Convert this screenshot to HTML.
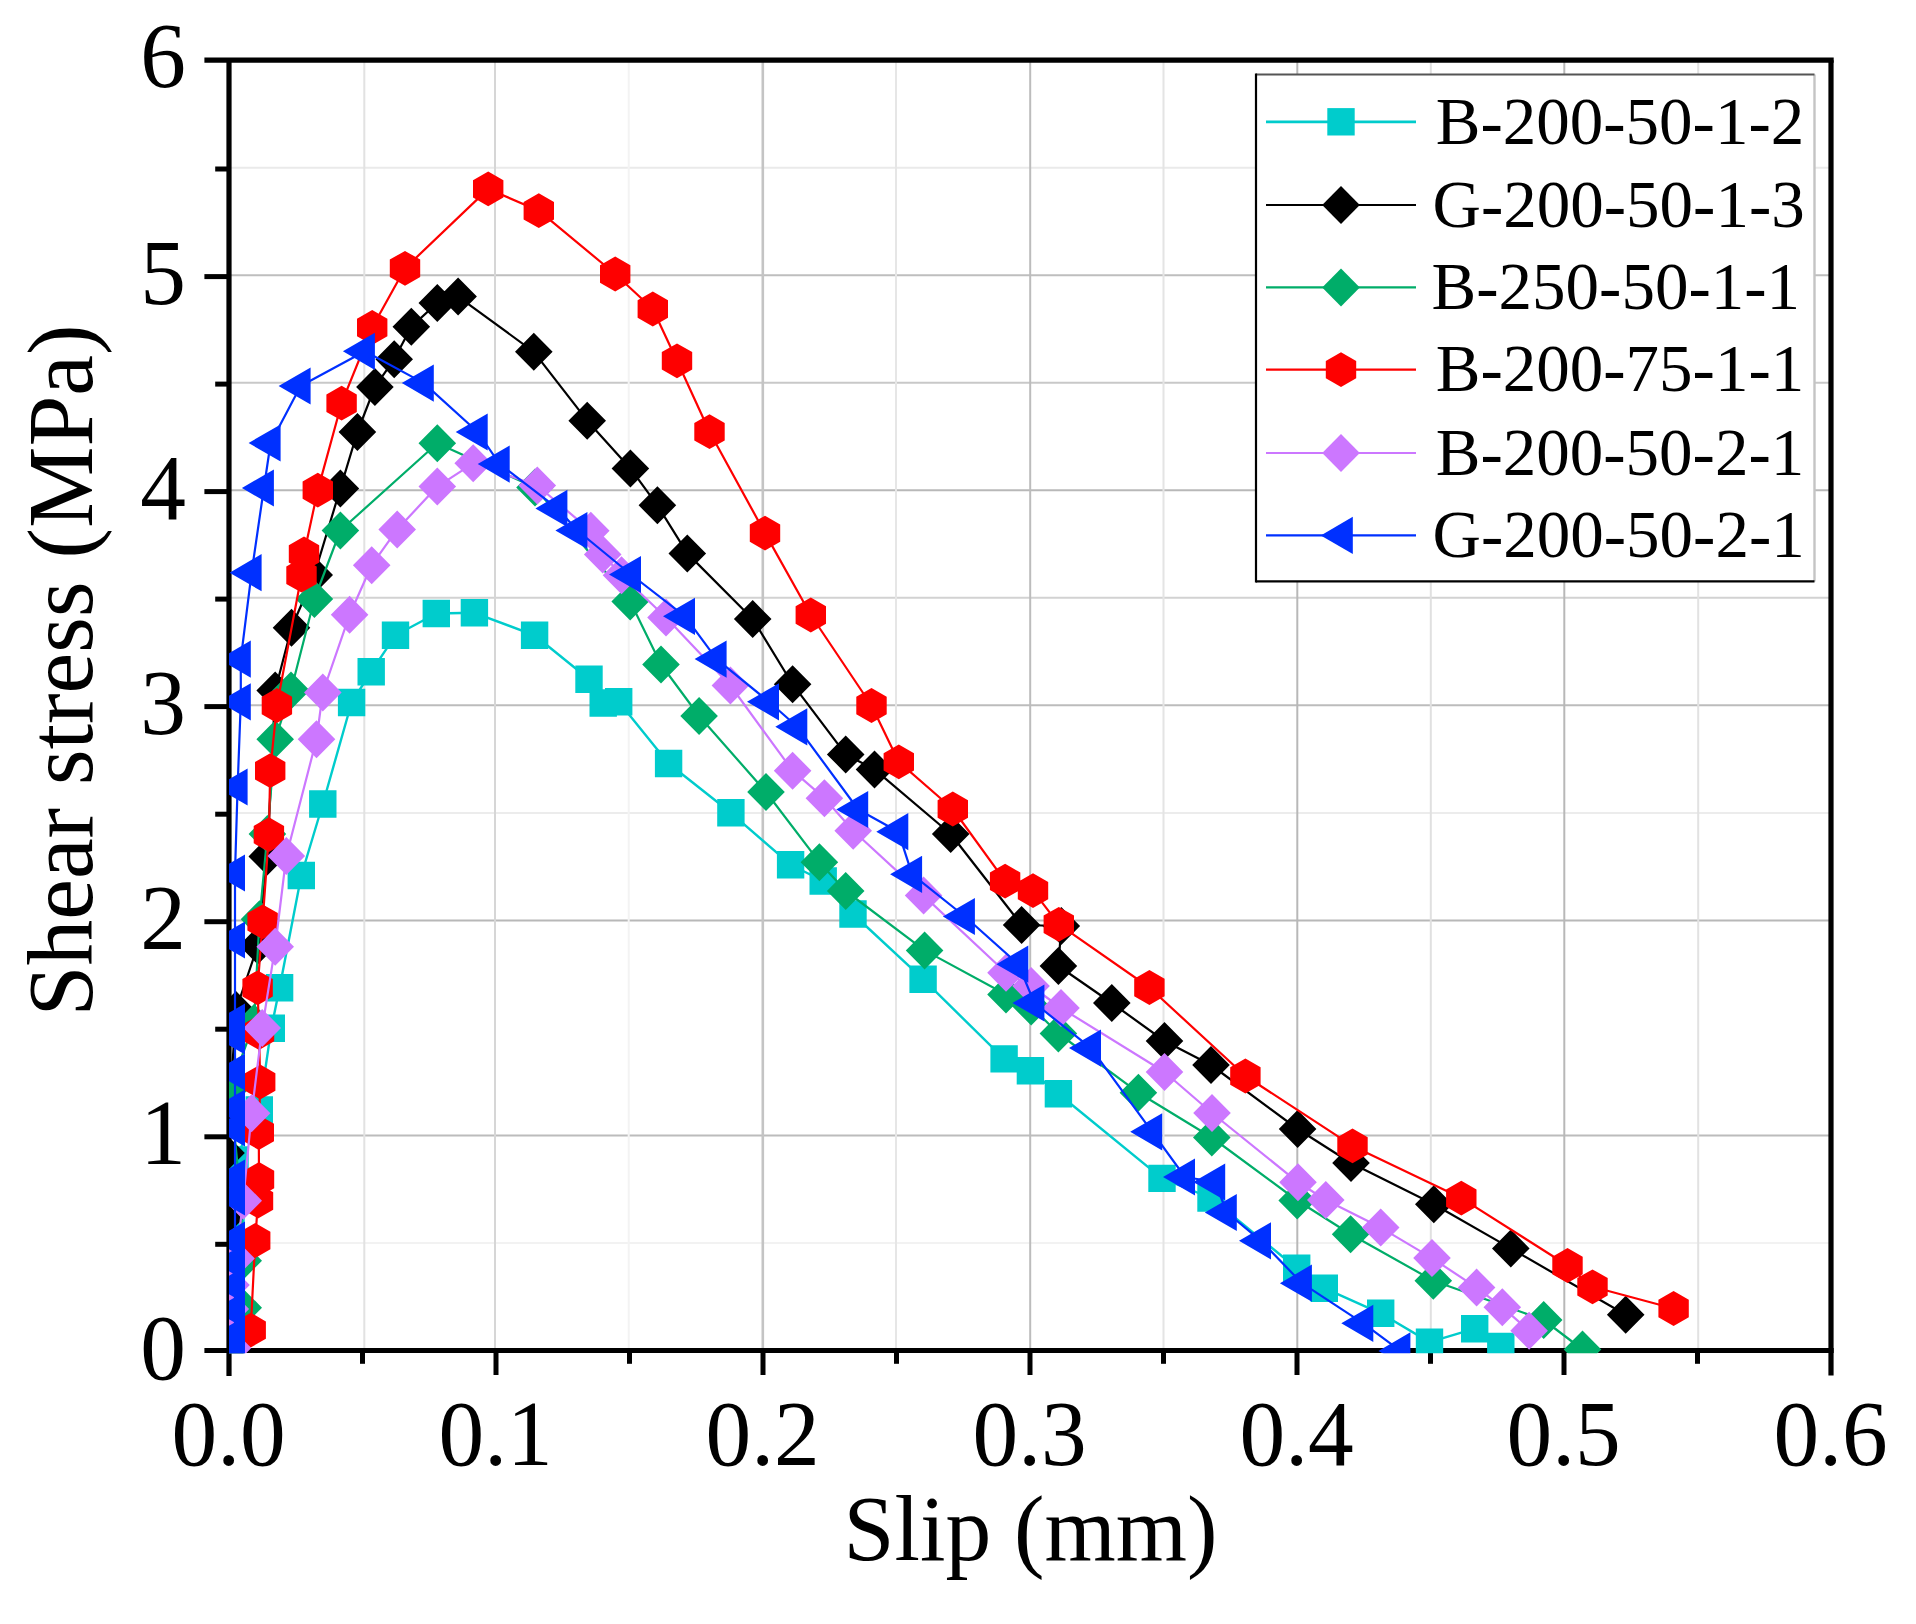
<!DOCTYPE html>
<html lang="en"><head><meta charset="utf-8"><title>Shear stress - slip curves</title>
<style>html,body{margin:0;padding:0;background:#fff}svg{display:block}text{font-family:'Liberation Serif','Times New Roman',Times,serif;fill:#000}</style></head><body>
<svg width="1916" height="1624" viewBox="0 0 1916 1624">
<rect x="0" y="0" width="1916" height="1624" fill="#fff"/>
<g fill="none" stroke-width="2">
<line x1="229.0" x2="1831.0" y1="1243.0" y2="1243.0" stroke="#f2f2f2"/>
<line x1="229.0" x2="1831.0" y1="1135.5" y2="1135.5" stroke="#bcbcbc"/>
<line x1="229.0" x2="1831.0" y1="920.4" y2="920.4" stroke="#b8b8b8"/>
<line x1="229.0" x2="1831.0" y1="812.9" y2="812.9" stroke="#ececec"/>
<line x1="229.0" x2="1831.0" y1="705.3" y2="705.3" stroke="#bcbcbc"/>
<line x1="229.0" x2="1831.0" y1="597.8" y2="597.8" stroke="#d2d2d2"/>
<line x1="229.0" x2="1831.0" y1="490.3" y2="490.3" stroke="#b8b8b8"/>
<line x1="229.0" x2="1831.0" y1="382.8" y2="382.8" stroke="#c8c8c8"/>
<line x1="229.0" x2="1831.0" y1="275.2" y2="275.2" stroke="#bebebe"/>
<line x1="229.0" x2="1831.0" y1="167.7" y2="167.7" stroke="#eaeaea"/>
<line x1="364.3" x2="364.3" y1="60.2" y2="1350.5" stroke="#e2e2e2" stroke-width="2"/>
<line x1="495.0" x2="495.0" y1="60.2" y2="1350.5" stroke="#d6d6d6" stroke-width="2"/>
<line x1="628.7" x2="628.7" y1="60.2" y2="1350.5" stroke="#f3f3f3" stroke-width="2"/>
<line x1="762.8" x2="762.8" y1="60.2" y2="1350.5" stroke="#c4c4c4" stroke-width="2.6"/>
<line x1="896.0" x2="896.0" y1="60.2" y2="1350.5" stroke="#e6e6e6" stroke-width="2"/>
<line x1="1030.2" x2="1030.2" y1="60.2" y2="1350.5" stroke="#bcbcbc" stroke-width="2"/>
<line x1="1163.5" x2="1163.5" y1="60.2" y2="1350.5" stroke="#e4e4e4" stroke-width="2"/>
<line x1="1297.3" x2="1297.3" y1="60.2" y2="1350.5" stroke="#b8b8b8" stroke-width="2"/>
<line x1="1430.8" x2="1430.8" y1="60.2" y2="1350.5" stroke="#e0e0e0" stroke-width="2"/>
<line x1="1564.3" x2="1564.3" y1="60.2" y2="1350.5" stroke="#b8b8b8" stroke-width="2"/>
<line x1="1698.2" x2="1698.2" y1="60.2" y2="1350.5" stroke="#e2e2e2" stroke-width="2"/>
</g>
<g stroke="#000" fill="none" stroke-width="5.2">
<line x1="204.4" x2="1833.7" y1="60.2" y2="60.2"/>
<line x1="204.4" x2="1833.7" y1="1350.5" y2="1350.5"/>
<line x1="229.0" x2="229.0" y1="60.2" y2="1376.0"/>
<line x1="1831.0" x2="1831.0" y1="60.2" y2="1375.5"/>
</g>
<g stroke="#000" fill="none" stroke-width="5">
<line x1="215.2" x2="229.0" y1="1244.3" y2="1244.3"/>
<line x1="204.4" x2="229.0" y1="1136.8" y2="1136.8"/>
<line x1="215.2" x2="229.0" y1="1029.2" y2="1029.2"/>
<line x1="204.4" x2="229.0" y1="921.7" y2="921.7"/>
<line x1="215.2" x2="229.0" y1="814.2" y2="814.2"/>
<line x1="204.4" x2="229.0" y1="706.6" y2="706.6"/>
<line x1="215.2" x2="229.0" y1="599.1" y2="599.1"/>
<line x1="204.4" x2="229.0" y1="491.6" y2="491.6"/>
<line x1="215.2" x2="229.0" y1="384.1" y2="384.1"/>
<line x1="204.4" x2="229.0" y1="276.6" y2="276.6"/>
<line x1="215.2" x2="229.0" y1="169.0" y2="169.0"/>
<line x1="362.5" x2="362.5" y1="1350.5" y2="1363.8"/>
<line x1="496.0" x2="496.0" y1="1350.5" y2="1375.0"/>
<line x1="629.5" x2="629.5" y1="1350.5" y2="1363.8"/>
<line x1="763.0" x2="763.0" y1="1350.5" y2="1375.0"/>
<line x1="896.5" x2="896.5" y1="1350.5" y2="1363.8"/>
<line x1="1030.0" x2="1030.0" y1="1350.5" y2="1375.0"/>
<line x1="1163.5" x2="1163.5" y1="1350.5" y2="1363.8"/>
<line x1="1297.0" x2="1297.0" y1="1350.5" y2="1375.0"/>
<line x1="1430.5" x2="1430.5" y1="1350.5" y2="1363.8"/>
<line x1="1564.0" x2="1564.0" y1="1350.5" y2="1375.0"/>
<line x1="1697.5" x2="1697.5" y1="1350.5" y2="1363.8"/>
</g>
<defs><clipPath id="pc"><rect x="229.0" y="57.2" width="1605.0" height="1296.1"/></clipPath></defs>
<g clip-path="url(#pc)">
<path d="M230.0 1349.0L231.0 1318.0L231.0 1287.0L231.0 1225.0L235.0 1160.0L259.3 1110.0L271.3 1028.3L279.6 987.8L301.3 875.5L322.8 804.0L351.6 702.5L371.2 671.7L395.5 635.3L436.3 613.5L474.4 612.8L534.6 635.3L589.0 679.2L603.2 703.0L618.7 701.8L668.6 763.5L730.9 812.8L790.6 864.7L823.2 881.0L853.0 914.0L923.1 979.2L1004.1 1058.9L1030.4 1070.7L1058.4 1093.7L1162.0 1178.4L1211.0 1198.0L1296.7 1268.2L1324.3 1288.2L1380.7 1313.3L1429.5 1342.1L1474.7 1328.7L1500.8 1346.4" fill="none" stroke="#00cccc" stroke-width="2.4" stroke-linejoin="round"/>
<path d="M216.3 1335.3h27.4v27.4h-27.4zM217.3 1304.3h27.4v27.4h-27.4zM217.3 1273.3h27.4v27.4h-27.4zM217.3 1211.3h27.4v27.4h-27.4zM221.3 1146.3h27.4v27.4h-27.4zM245.6 1096.3h27.4v27.4h-27.4zM257.6 1014.6h27.4v27.4h-27.4zM265.9 974.1h27.4v27.4h-27.4zM287.6 861.8h27.4v27.4h-27.4zM309.1 790.3h27.4v27.4h-27.4zM337.9 688.8h27.4v27.4h-27.4zM357.5 658.0h27.4v27.4h-27.4zM381.8 621.6h27.4v27.4h-27.4zM422.6 599.8h27.4v27.4h-27.4zM460.7 599.1h27.4v27.4h-27.4zM520.9 621.6h27.4v27.4h-27.4zM575.3 665.5h27.4v27.4h-27.4zM589.5 689.3h27.4v27.4h-27.4zM605.0 688.1h27.4v27.4h-27.4zM654.9 749.8h27.4v27.4h-27.4zM717.2 799.1h27.4v27.4h-27.4zM776.9 851.0h27.4v27.4h-27.4zM809.5 867.3h27.4v27.4h-27.4zM839.3 900.3h27.4v27.4h-27.4zM909.4 965.5h27.4v27.4h-27.4zM990.4 1045.2h27.4v27.4h-27.4zM1016.7 1057.0h27.4v27.4h-27.4zM1044.7 1080.0h27.4v27.4h-27.4zM1148.3 1164.7h27.4v27.4h-27.4zM1197.3 1184.3h27.4v27.4h-27.4zM1283.0 1254.5h27.4v27.4h-27.4zM1310.6 1274.5h27.4v27.4h-27.4zM1367.0 1299.6h27.4v27.4h-27.4zM1415.8 1328.4h27.4v27.4h-27.4zM1461.0 1315.0h27.4v27.4h-27.4zM1487.1 1332.7h27.4v27.4h-27.4z" fill="#00cccc" stroke="none"/>
<path d="M230.0 1348.0L229.0 1285.0L228.0 1215.0L226.0 1153.0L231.0 1087.0L236.0 1010.0L257.8 945.5L267.3 856.4L275.2 690.5L291.5 627.8L314.2 575.0L340.4 488.4L357.4 432.0L374.9 386.9L394.2 359.3L411.3 326.7L437.3 302.9L458.1 296.6L533.8 351.8L587.2 420.7L630.4 468.4L657.4 505.3L687.3 553.4L752.7 619.0L792.6 684.2L845.7 754.4L874.5 769.4L950.7 834.0L1021.6 925.0L1061.3 926.0L1058.4 966.0L1111.8 1003.0L1164.5 1041.0L1211.0 1065.0L1297.6 1129.0L1351.0 1163.0L1433.8 1204.3L1510.8 1248.4L1625.7 1314.8" fill="none" stroke="#000000" stroke-width="2.2" stroke-linejoin="round"/>
<path d="M230.0 1329.0l18.8 19.0l-18.8 19.0l-18.8 -19.0zM229.0 1266.0l18.8 19.0l-18.8 19.0l-18.8 -19.0zM228.0 1196.0l18.8 19.0l-18.8 19.0l-18.8 -19.0zM226.0 1134.0l18.8 19.0l-18.8 19.0l-18.8 -19.0zM231.0 1068.0l18.8 19.0l-18.8 19.0l-18.8 -19.0zM236.0 991.0l18.8 19.0l-18.8 19.0l-18.8 -19.0zM257.8 926.5l18.8 19.0l-18.8 19.0l-18.8 -19.0zM267.3 837.4l18.8 19.0l-18.8 19.0l-18.8 -19.0zM275.2 671.5l18.8 19.0l-18.8 19.0l-18.8 -19.0zM291.5 608.8l18.8 19.0l-18.8 19.0l-18.8 -19.0zM314.2 556.0l18.8 19.0l-18.8 19.0l-18.8 -19.0zM340.4 469.4l18.8 19.0l-18.8 19.0l-18.8 -19.0zM357.4 413.0l18.8 19.0l-18.8 19.0l-18.8 -19.0zM374.9 367.9l18.8 19.0l-18.8 19.0l-18.8 -19.0zM394.2 340.3l18.8 19.0l-18.8 19.0l-18.8 -19.0zM411.3 307.7l18.8 19.0l-18.8 19.0l-18.8 -19.0zM437.3 283.9l18.8 19.0l-18.8 19.0l-18.8 -19.0zM458.1 277.6l18.8 19.0l-18.8 19.0l-18.8 -19.0zM533.8 332.8l18.8 19.0l-18.8 19.0l-18.8 -19.0zM587.2 401.7l18.8 19.0l-18.8 19.0l-18.8 -19.0zM630.4 449.4l18.8 19.0l-18.8 19.0l-18.8 -19.0zM657.4 486.3l18.8 19.0l-18.8 19.0l-18.8 -19.0zM687.3 534.4l18.8 19.0l-18.8 19.0l-18.8 -19.0zM752.7 600.0l18.8 19.0l-18.8 19.0l-18.8 -19.0zM792.6 665.2l18.8 19.0l-18.8 19.0l-18.8 -19.0zM845.7 735.4l18.8 19.0l-18.8 19.0l-18.8 -19.0zM874.5 750.4l18.8 19.0l-18.8 19.0l-18.8 -19.0zM950.7 815.0l18.8 19.0l-18.8 19.0l-18.8 -19.0zM1021.6 906.0l18.8 19.0l-18.8 19.0l-18.8 -19.0zM1061.3 907.0l18.8 19.0l-18.8 19.0l-18.8 -19.0zM1058.4 947.0l18.8 19.0l-18.8 19.0l-18.8 -19.0zM1111.8 984.0l18.8 19.0l-18.8 19.0l-18.8 -19.0zM1164.5 1022.0l18.8 19.0l-18.8 19.0l-18.8 -19.0zM1211.0 1046.0l18.8 19.0l-18.8 19.0l-18.8 -19.0zM1297.6 1110.0l18.8 19.0l-18.8 19.0l-18.8 -19.0zM1351.0 1144.0l18.8 19.0l-18.8 19.0l-18.8 -19.0zM1433.8 1185.3l18.8 19.0l-18.8 19.0l-18.8 -19.0zM1510.8 1229.4l18.8 19.0l-18.8 19.0l-18.8 -19.0zM1625.7 1295.8l18.8 19.0l-18.8 19.0l-18.8 -19.0z" fill="#000000" stroke="none"/>
<path d="M231.0 1348.0L243.2 1307.7L243.2 1260.7L240.0 1190.0L230.0 1089.0L254.0 1023.0L259.5 919.2L267.4 834.0L275.2 739.3L291.0 690.5L314.4 599.0L340.4 530.5L437.3 443.3L535.0 487.5L630.2 601.5L661.0 664.5L699.1 716.0L766.0 792.0L819.4 862.2L845.7 891.0L924.6 950.4L1006.0 994.5L1031.2 1006.5L1058.4 1033.5L1138.4 1092.7L1211.8 1137.5L1297.2 1200.5L1350.6 1234.3L1433.3 1280.7L1543.7 1320.0L1582.5 1349.5" fill="none" stroke="#00ad69" stroke-width="2.2" stroke-linejoin="round"/>
<path d="M231.0 1329.0l18.8 19.0l-18.8 19.0l-18.8 -19.0zM243.2 1288.7l18.8 19.0l-18.8 19.0l-18.8 -19.0zM243.2 1241.7l18.8 19.0l-18.8 19.0l-18.8 -19.0zM240.0 1171.0l18.8 19.0l-18.8 19.0l-18.8 -19.0zM230.0 1070.0l18.8 19.0l-18.8 19.0l-18.8 -19.0zM254.0 1004.0l18.8 19.0l-18.8 19.0l-18.8 -19.0zM259.5 900.2l18.8 19.0l-18.8 19.0l-18.8 -19.0zM267.4 815.0l18.8 19.0l-18.8 19.0l-18.8 -19.0zM275.2 720.3l18.8 19.0l-18.8 19.0l-18.8 -19.0zM291.0 671.5l18.8 19.0l-18.8 19.0l-18.8 -19.0zM314.4 580.0l18.8 19.0l-18.8 19.0l-18.8 -19.0zM340.4 511.5l18.8 19.0l-18.8 19.0l-18.8 -19.0zM437.3 424.3l18.8 19.0l-18.8 19.0l-18.8 -19.0zM535.0 468.5l18.8 19.0l-18.8 19.0l-18.8 -19.0zM630.2 582.5l18.8 19.0l-18.8 19.0l-18.8 -19.0zM661.0 645.5l18.8 19.0l-18.8 19.0l-18.8 -19.0zM699.1 697.0l18.8 19.0l-18.8 19.0l-18.8 -19.0zM766.0 773.0l18.8 19.0l-18.8 19.0l-18.8 -19.0zM819.4 843.2l18.8 19.0l-18.8 19.0l-18.8 -19.0zM845.7 872.0l18.8 19.0l-18.8 19.0l-18.8 -19.0zM924.6 931.4l18.8 19.0l-18.8 19.0l-18.8 -19.0zM1006.0 975.5l18.8 19.0l-18.8 19.0l-18.8 -19.0zM1031.2 987.5l18.8 19.0l-18.8 19.0l-18.8 -19.0zM1058.4 1014.5l18.8 19.0l-18.8 19.0l-18.8 -19.0zM1138.4 1073.7l18.8 19.0l-18.8 19.0l-18.8 -19.0zM1211.8 1118.5l18.8 19.0l-18.8 19.0l-18.8 -19.0zM1297.2 1181.5l18.8 19.0l-18.8 19.0l-18.8 -19.0zM1350.6 1215.3l18.8 19.0l-18.8 19.0l-18.8 -19.0zM1433.3 1261.7l18.8 19.0l-18.8 19.0l-18.8 -19.0zM1543.7 1301.0l18.8 19.0l-18.8 19.0l-18.8 -19.0zM1582.5 1330.5l18.8 19.0l-18.8 19.0l-18.8 -19.0z" fill="#00ad69" stroke="none"/>
<path d="M250.7 1330.1L255.2 1240.5L258.0 1201.0L259.0 1179.5L258.8 1132.5L260.2 1082.0L259.0 1032.5L257.6 987.8L262.6 921.8L268.9 834.6L270.2 770.7L276.9 705.5L301.5 575.2L304.0 553.9L317.8 490.1L341.6 403.2L372.2 327.5L405.0 268.3L488.2 188.9L538.8 210.7L615.2 274.0L652.8 309.0L677.0 360.8L709.5 431.7L765.0 533.1L810.8 615.0L871.5 705.5L898.8 761.9L952.8 809.0L1005.1 881.2L1033.0 890.6L1058.8 924.3L1149.4 987.5L1245.4 1076.0L1352.5 1145.9L1461.3 1198.1L1567.5 1265.5L1592.5 1286.8L1673.6 1308.5" fill="none" stroke="#fe0000" stroke-width="2.2" stroke-linejoin="round"/>
<path d="M250.7 1312.7l15.2 8.7v17.4l-15.2 8.7l-15.2 -8.7v-17.4zM255.2 1223.1l15.2 8.7v17.4l-15.2 8.7l-15.2 -8.7v-17.4zM258.0 1183.6l15.2 8.7v17.4l-15.2 8.7l-15.2 -8.7v-17.4zM259.0 1162.1l15.2 8.7v17.4l-15.2 8.7l-15.2 -8.7v-17.4zM258.8 1115.1l15.2 8.7v17.4l-15.2 8.7l-15.2 -8.7v-17.4zM260.2 1064.6l15.2 8.7v17.4l-15.2 8.7l-15.2 -8.7v-17.4zM259.0 1015.1l15.2 8.7v17.4l-15.2 8.7l-15.2 -8.7v-17.4zM257.6 970.4l15.2 8.7v17.4l-15.2 8.7l-15.2 -8.7v-17.4zM262.6 904.4l15.2 8.7v17.4l-15.2 8.7l-15.2 -8.7v-17.4zM268.9 817.2l15.2 8.7v17.4l-15.2 8.7l-15.2 -8.7v-17.4zM270.2 753.3l15.2 8.7v17.4l-15.2 8.7l-15.2 -8.7v-17.4zM276.9 688.1l15.2 8.7v17.4l-15.2 8.7l-15.2 -8.7v-17.4zM301.5 557.8l15.2 8.7v17.4l-15.2 8.7l-15.2 -8.7v-17.4zM304.0 536.5l15.2 8.7v17.4l-15.2 8.7l-15.2 -8.7v-17.4zM317.8 472.7l15.2 8.7v17.4l-15.2 8.7l-15.2 -8.7v-17.4zM341.6 385.8l15.2 8.7v17.4l-15.2 8.7l-15.2 -8.7v-17.4zM372.2 310.1l15.2 8.7v17.4l-15.2 8.7l-15.2 -8.7v-17.4zM405.0 250.9l15.2 8.7v17.4l-15.2 8.7l-15.2 -8.7v-17.4zM488.2 171.5l15.2 8.7v17.4l-15.2 8.7l-15.2 -8.7v-17.4zM538.8 193.3l15.2 8.7v17.4l-15.2 8.7l-15.2 -8.7v-17.4zM615.2 256.6l15.2 8.7v17.4l-15.2 8.7l-15.2 -8.7v-17.4zM652.8 291.6l15.2 8.7v17.4l-15.2 8.7l-15.2 -8.7v-17.4zM677.0 343.4l15.2 8.7v17.4l-15.2 8.7l-15.2 -8.7v-17.4zM709.5 414.3l15.2 8.7v17.4l-15.2 8.7l-15.2 -8.7v-17.4zM765.0 515.7l15.2 8.7v17.4l-15.2 8.7l-15.2 -8.7v-17.4zM810.8 597.6l15.2 8.7v17.4l-15.2 8.7l-15.2 -8.7v-17.4zM871.5 688.1l15.2 8.7v17.4l-15.2 8.7l-15.2 -8.7v-17.4zM898.8 744.5l15.2 8.7v17.4l-15.2 8.7l-15.2 -8.7v-17.4zM952.8 791.6l15.2 8.7v17.4l-15.2 8.7l-15.2 -8.7v-17.4zM1005.1 863.8l15.2 8.7v17.4l-15.2 8.7l-15.2 -8.7v-17.4zM1033.0 873.2l15.2 8.7v17.4l-15.2 8.7l-15.2 -8.7v-17.4zM1058.8 906.9l15.2 8.7v17.4l-15.2 8.7l-15.2 -8.7v-17.4zM1149.4 970.1l15.2 8.7v17.4l-15.2 8.7l-15.2 -8.7v-17.4zM1245.4 1058.6l15.2 8.7v17.4l-15.2 8.7l-15.2 -8.7v-17.4zM1352.5 1128.5l15.2 8.7v17.4l-15.2 8.7l-15.2 -8.7v-17.4zM1461.3 1180.7l15.2 8.7v17.4l-15.2 8.7l-15.2 -8.7v-17.4zM1567.5 1248.1l15.2 8.7v17.4l-15.2 8.7l-15.2 -8.7v-17.4zM1592.5 1269.4l15.2 8.7v17.4l-15.2 8.7l-15.2 -8.7v-17.4zM1673.6 1291.1l15.2 8.7v17.4l-15.2 8.7l-15.2 -8.7v-17.4z" fill="#fe0000" stroke="none"/>
<path d="M232.5 1348.0L230.3 1309.0L231.0 1285.0L236.0 1258.5L243.2 1200.7L251.6 1113.3L262.2 1028.0L275.2 946.8L286.3 856.0L316.5 739.3L322.8 692.5L349.6 614.8L371.7 565.2L397.2 529.4L437.3 486.6L473.2 463.3L537.3 485.5L590.8 530.8L602.7 554.6L621.5 575.3L666.0 617.5L730.4 685.5L792.6 770.7L824.4 798.2L853.2 830.8L923.6 895.6L1006.0 972.8L1031.1 986.0L1061.0 1008.0L1164.5 1072.0L1212.0 1113.0L1298.0 1182.3L1325.8 1200.0L1380.7 1227.6L1432.0 1258.1L1476.6 1287.6L1502.3 1307.2L1529.1 1330.7" fill="none" stroke="#cc77ff" stroke-width="2.2" stroke-linejoin="round"/>
<path d="M232.5 1329.0l18.8 19.0l-18.8 19.0l-18.8 -19.0zM230.3 1290.0l18.8 19.0l-18.8 19.0l-18.8 -19.0zM231.0 1266.0l18.8 19.0l-18.8 19.0l-18.8 -19.0zM236.0 1239.5l18.8 19.0l-18.8 19.0l-18.8 -19.0zM243.2 1181.7l18.8 19.0l-18.8 19.0l-18.8 -19.0zM251.6 1094.3l18.8 19.0l-18.8 19.0l-18.8 -19.0zM262.2 1009.0l18.8 19.0l-18.8 19.0l-18.8 -19.0zM275.2 927.8l18.8 19.0l-18.8 19.0l-18.8 -19.0zM286.3 837.0l18.8 19.0l-18.8 19.0l-18.8 -19.0zM316.5 720.3l18.8 19.0l-18.8 19.0l-18.8 -19.0zM322.8 673.5l18.8 19.0l-18.8 19.0l-18.8 -19.0zM349.6 595.8l18.8 19.0l-18.8 19.0l-18.8 -19.0zM371.7 546.2l18.8 19.0l-18.8 19.0l-18.8 -19.0zM397.2 510.4l18.8 19.0l-18.8 19.0l-18.8 -19.0zM437.3 467.6l18.8 19.0l-18.8 19.0l-18.8 -19.0zM473.2 444.3l18.8 19.0l-18.8 19.0l-18.8 -19.0zM537.3 466.5l18.8 19.0l-18.8 19.0l-18.8 -19.0zM590.8 511.8l18.8 19.0l-18.8 19.0l-18.8 -19.0zM602.7 535.6l18.8 19.0l-18.8 19.0l-18.8 -19.0zM621.5 556.3l18.8 19.0l-18.8 19.0l-18.8 -19.0zM666.0 598.5l18.8 19.0l-18.8 19.0l-18.8 -19.0zM730.4 666.5l18.8 19.0l-18.8 19.0l-18.8 -19.0zM792.6 751.7l18.8 19.0l-18.8 19.0l-18.8 -19.0zM824.4 779.2l18.8 19.0l-18.8 19.0l-18.8 -19.0zM853.2 811.8l18.8 19.0l-18.8 19.0l-18.8 -19.0zM923.6 876.6l18.8 19.0l-18.8 19.0l-18.8 -19.0zM1006.0 953.8l18.8 19.0l-18.8 19.0l-18.8 -19.0zM1031.1 967.0l18.8 19.0l-18.8 19.0l-18.8 -19.0zM1061.0 989.0l18.8 19.0l-18.8 19.0l-18.8 -19.0zM1164.5 1053.0l18.8 19.0l-18.8 19.0l-18.8 -19.0zM1212.0 1094.0l18.8 19.0l-18.8 19.0l-18.8 -19.0zM1298.0 1163.3l18.8 19.0l-18.8 19.0l-18.8 -19.0zM1325.8 1181.0l18.8 19.0l-18.8 19.0l-18.8 -19.0zM1380.7 1208.6l18.8 19.0l-18.8 19.0l-18.8 -19.0zM1432.0 1239.1l18.8 19.0l-18.8 19.0l-18.8 -19.0zM1476.6 1268.6l18.8 19.0l-18.8 19.0l-18.8 -19.0zM1502.3 1288.2l18.8 19.0l-18.8 19.0l-18.8 -19.0zM1529.1 1311.7l18.8 19.0l-18.8 19.0l-18.8 -19.0z" fill="#cc77ff" stroke="none"/>
<path d="M235.0 1350.0L235.0 1335.0L235.0 1310.0L235.0 1285.0L235.0 1262.0L235.0 1240.0L235.0 1197.0L235.0 1178.0L235.0 1128.0L235.0 1108.0L235.0 1072.0L235.0 1036.0L235.0 1022.0L235.0 940.0L235.0 873.0L237.6 787.0L240.8 701.8L240.8 659.1L251.6 572.7L263.9 488.0L270.6 443.0L300.6 386.0L364.9 351.3L423.8 383.1L477.7 432.0L499.7 464.1L557.4 508.4L577.4 530.5L631.0 574.5L685.0 616.3L716.6 659.1L769.0 701.8L797.3 726.8L858.2 809.5L898.3 831.7L912.1 874.3L964.9 916.5L1018.3 964.2L1034.4 1003.0L1091.0 1048.1L1152.2 1131.8L1185.0 1177.0L1215.2 1182.0L1226.8 1212.5L1261.0 1240.8L1301.9 1283.2L1363.3 1323.3L1400.4 1350.9" fill="none" stroke="#0030ff" stroke-width="2.2" stroke-linejoin="round"/>
<path d="M213.0 1350.0L245.0 1331.4L245.0 1368.6zM213.0 1335.0L245.0 1316.4L245.0 1353.6zM213.0 1310.0L245.0 1291.4L245.0 1328.6zM213.0 1285.0L245.0 1266.4L245.0 1303.6zM213.0 1262.0L245.0 1243.4L245.0 1280.6zM213.0 1240.0L245.0 1221.4L245.0 1258.6zM213.0 1197.0L245.0 1178.4L245.0 1215.6zM213.0 1178.0L245.0 1159.4L245.0 1196.6zM213.0 1128.0L245.0 1109.4L245.0 1146.6zM213.0 1108.0L245.0 1089.4L245.0 1126.6zM213.0 1072.0L245.0 1053.4L245.0 1090.6zM213.0 1036.0L245.0 1017.4L245.0 1054.6zM213.0 1022.0L245.0 1003.4L245.0 1040.6zM213.0 940.0L245.0 921.4L245.0 958.6zM213.0 873.0L245.0 854.4L245.0 891.6zM215.6 787.0L247.6 768.4L247.6 805.6zM218.8 701.8L250.8 683.2L250.8 720.4zM218.8 659.1L250.8 640.5L250.8 677.7zM229.6 572.7L261.6 554.1L261.6 591.3zM241.9 488.0L273.9 469.4L273.9 506.6zM248.6 443.0L280.6 424.4L280.6 461.6zM278.6 386.0L310.6 367.4L310.6 404.6zM342.9 351.3L374.9 332.7L374.9 369.9zM401.8 383.1L433.8 364.5L433.8 401.7zM455.7 432.0L487.7 413.4L487.7 450.6zM477.7 464.1L509.7 445.5L509.7 482.7zM535.4 508.4L567.4 489.8L567.4 527.0zM555.4 530.5L587.4 511.9L587.4 549.1zM609.0 574.5L641.0 555.9L641.0 593.1zM663.0 616.3L695.0 597.7L695.0 634.9zM694.6 659.1L726.6 640.5L726.6 677.7zM747.0 701.8L779.0 683.2L779.0 720.4zM775.3 726.8L807.3 708.2L807.3 745.4zM836.2 809.5L868.2 790.9L868.2 828.1zM876.3 831.7L908.3 813.1L908.3 850.3zM890.1 874.3L922.1 855.7L922.1 892.9zM942.9 916.5L974.9 897.9L974.9 935.1zM996.3 964.2L1028.3 945.6L1028.3 982.8zM1012.4 1003.0L1044.4 984.4L1044.4 1021.6zM1069.0 1048.1L1101.0 1029.5L1101.0 1066.7zM1130.2 1131.8L1162.2 1113.2L1162.2 1150.4zM1163.0 1177.0L1195.0 1158.4L1195.0 1195.6zM1193.2 1182.0L1225.2 1163.4L1225.2 1200.6zM1204.8 1212.5L1236.8 1193.9L1236.8 1231.1zM1239.0 1240.8L1271.0 1222.2L1271.0 1259.4zM1279.9 1283.2L1311.9 1264.6L1311.9 1301.8zM1341.3 1323.3L1373.3 1304.7L1373.3 1341.9zM1378.4 1350.9L1410.4 1332.3L1410.4 1369.5z" fill="#0030ff" stroke="none"/>
</g>
<rect x="1256.0" y="74.4" width="558.5" height="507.0" fill="#fff"/>
<g fill="none">
<line x1="1814.5" x2="1814.5" y1="74.4" y2="581.4" stroke="#c4c4c4" stroke-width="2.4"/>
<line x1="1256.0" x2="1814.5" y1="74.4" y2="74.4" stroke="#555" stroke-width="2"/>
<line x1="1256.0" x2="1256.0" y1="73.4" y2="582.4" stroke="#000" stroke-width="2.2"/>
<line x1="1256.0" x2="1814.5" y1="581.4" y2="581.4" stroke="#000" stroke-width="2.2"/>
</g>
<line x1="1266" x2="1416" y1="121.8" y2="121.8" stroke="#00cccc" stroke-width="2.8"/>
<path d="M1327.3 108.1h27.4v27.4h-27.4z" fill="#00cccc"/>
<text x="1435.8" y="143.6" font-size="67">B-200-50-1-2</text>
<line x1="1266" x2="1416" y1="204.9" y2="204.9" stroke="#000000" stroke-width="2.0"/>
<path d="M1341.0 185.9l18.8 19.0l-18.8 19.0l-18.8 -19.0z" fill="#000000"/>
<text x="1432.6" y="226.7" font-size="67">G-200-50-1-3</text>
<line x1="1266" x2="1416" y1="287.4" y2="287.4" stroke="#00ad69" stroke-width="2.2"/>
<path d="M1341.0 268.4l18.8 19.0l-18.8 19.0l-18.8 -19.0z" fill="#00ad69"/>
<text x="1431.6" y="309.2" font-size="67">B-250-50-1-1</text>
<line x1="1266" x2="1416" y1="369.6" y2="369.6" stroke="#fe0000" stroke-width="2.2"/>
<path d="M1341.0 352.2l15.2 8.7v17.4l-15.2 8.7l-15.2 -8.7v-17.4z" fill="#fe0000"/>
<text x="1435.8" y="391.4" font-size="67">B-200-75-1-1</text>
<line x1="1266" x2="1416" y1="453.0" y2="453.0" stroke="#cc77ff" stroke-width="2.2"/>
<path d="M1341.0 434.0l18.8 19.0l-18.8 19.0l-18.8 -19.0z" fill="#cc77ff"/>
<text x="1435.8" y="474.8" font-size="67">B-200-50-2-1</text>
<line x1="1266" x2="1416" y1="535.4" y2="535.4" stroke="#0030ff" stroke-width="2.2"/>
<path d="M1320.8 535.4L1352.8 516.8L1352.8 554.0z" fill="#0030ff"/>
<text x="1432.6" y="557.2" font-size="67">G-200-50-2-1</text>
<g font-size="92.8" text-anchor="end">
<text transform="translate(186 1379.1) scale(0.985 1)">0</text>
<text transform="translate(186 1164.0) scale(0.985 1)">1</text>
<text transform="translate(186 949.0) scale(0.985 1)">2</text>
<text transform="translate(186 733.9) scale(0.985 1)">3</text>
<text transform="translate(186 518.9) scale(0.985 1)">4</text>
<text transform="translate(186 303.9) scale(0.985 1)">5</text>
<text transform="translate(186 86.9) scale(0.985 1)">6</text>
</g>
<g font-size="92.8" text-anchor="middle">
<text transform="translate(228.7 1464.6) scale(0.985 1)">0.0</text>
<text transform="translate(495.7 1464.6) scale(0.985 1)">0.1</text>
<text transform="translate(762.7 1464.6) scale(0.985 1)">0.2</text>
<text transform="translate(1029.7 1464.6) scale(0.985 1)">0.3</text>
<text transform="translate(1296.7 1464.6) scale(0.985 1)">0.4</text>
<text transform="translate(1563.7 1464.6) scale(0.985 1)">0.5</text>
<text transform="translate(1830.7 1464.6) scale(0.985 1)">0.6</text>
</g>
<text x="843.6" y="1560" font-size="93.5" textLength="374" lengthAdjust="spacingAndGlyphs">Slip (mm)</text>
<text transform="translate(91.5 1016.5) rotate(-90)" font-size="93" textLength="692" lengthAdjust="spacingAndGlyphs">Shear stress (MPa)</text>
</svg></body></html>
